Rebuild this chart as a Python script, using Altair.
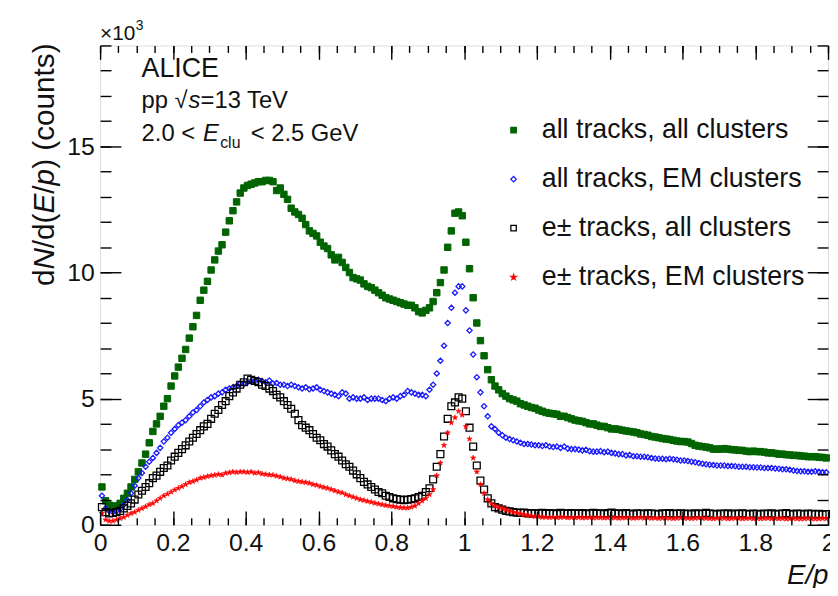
import altair as alt
import numpy as np
import pandas as pd

# ---------------- data (values in units of 10^3 counts) ----------------
bin_centers = np.round(np.arange(200) * 0.01 + 0.005, 3)

all_tracks_all_clusters = [
    1.5, 0.95, 0.78, 0.72, 0.75, 0.85, 1.05, 1.25, 1.5, 1.8,
    2.1, 2.45, 2.8, 3.25, 3.7, 4.0, 4.3, 4.7, 5.0, 5.5,
    5.9, 6.25, 6.6, 6.95, 7.4, 7.85, 8.3, 8.9, 9.3, 9.65,
    10.1, 10.5, 10.85, 11.1, 11.6, 12.05, 12.45, 12.8, 13.15, 13.35,
    13.45, 13.5, 13.55, 13.6, 13.6, 13.65, 13.65, 13.6, 13.25, 13.35,
    13.1, 12.9, 12.55, 12.4, 12.3, 12.15, 11.9, 11.65, 11.55, 11.45,
    11.2, 11.05, 10.95, 10.7, 10.5, 10.6, 10.4, 10.2, 10.0, 9.8,
    9.75, 9.7, 9.55, 9.45, 9.4, 9.3, 9.2, 9.1, 9.0, 8.95,
    8.9, 8.85, 8.8, 8.75, 8.7, 8.7, 8.6, 8.45, 8.4, 8.5,
    8.6, 8.85, 9.2, 9.6, 10.1, 11.0, 11.65, 12.35, 12.4, 12.25,
    11.2, 10.15, 9.0, 8.0, 7.3, 6.7, 6.15, 5.75, 5.5, 5.35,
    5.2, 5.1, 5.0, 4.95, 4.9, 4.8, 4.75, 4.7, 4.65, 4.62,
    4.55, 4.5, 4.45, 4.42, 4.4, 4.38, 4.3, 4.3, 4.25, 4.2,
    4.15, 4.12, 4.1, 4.05, 4.0, 4.0, 3.95, 3.9, 3.9, 3.85,
    3.8, 3.8, 3.78, 3.75, 3.72, 3.7, 3.68, 3.65, 3.6, 3.58,
    3.55, 3.5, 3.48, 3.45, 3.42, 3.4, 3.38, 3.35, 3.32, 3.3,
    3.3, 3.28, 3.22, 3.15, 3.12, 3.1, 3.08, 3.05, 3.0, 3.0,
    3.0, 3.02, 3.0, 2.98, 2.97, 2.95, 2.95, 2.92, 2.9, 2.92,
    2.9, 2.9, 2.88, 2.85, 2.85, 2.83, 2.8, 2.8, 2.78, 2.77,
    2.75, 2.75, 2.73, 2.72, 2.7, 2.7, 2.7, 2.68, 2.67, 2.65,
]

all_tracks_em_clusters = [
    1.15, 0.65, 0.55, 0.5, 0.55, 0.62, 0.8, 0.98, 1.25, 1.55,
    1.85, 2.05, 2.3, 2.5, 2.65, 2.85, 3.05, 3.3, 3.45, 3.65,
    3.8, 3.95, 4.05, 4.15, 4.3, 4.45, 4.55, 4.7, 4.85, 4.95,
    5.05, 5.1, 5.2, 5.25, 5.35, 5.4, 5.45, 5.5, 5.6, 5.6,
    5.65, 5.7, 5.7, 5.75, 5.7, 5.65, 5.72, 5.6, 5.62, 5.55,
    5.55, 5.5, 5.55, 5.5, 5.45, 5.4, 5.45, 5.37, 5.4, 5.45,
    5.35, 5.3, 5.25, 5.2, 5.15, 5.1, 5.25, 5.2, 5.0, 5.05,
    5.0, 5.0, 5.05, 4.95, 5.0, 5.0, 5.0, 4.95, 4.9, 5.0,
    5.05, 5.0, 5.1, 5.15, 5.3, 5.25, 5.2, 5.15, 5.15, 5.1,
    5.35, 5.55, 6.0, 6.5, 7.1, 8.0, 8.6, 9.2, 9.45, 9.45,
    8.5, 7.7, 6.75, 5.85, 5.25, 4.7, 4.3, 3.9, 3.8, 3.65,
    3.55, 3.45, 3.4, 3.35, 3.3, 3.25, 3.2, 3.2, 3.18, 3.15,
    3.15, 3.12, 3.15, 3.1, 3.08, 3.1, 3.05, 3.1, 3.02, 3.0,
    3.0, 2.98, 2.95, 2.97, 2.92, 2.9, 2.9, 2.92, 2.88, 2.9,
    2.85, 2.83, 2.8, 2.8, 2.75, 2.77, 2.72, 2.72, 2.7, 2.7,
    2.68, 2.65, 2.63, 2.62, 2.62, 2.6, 2.62, 2.6, 2.58, 2.55,
    2.55, 2.53, 2.5, 2.48, 2.45, 2.42, 2.4, 2.38, 2.37, 2.35,
    2.35, 2.35, 2.33, 2.33, 2.32, 2.3, 2.3, 2.3, 2.28, 2.28,
    2.27, 2.27, 2.25, 2.25, 2.25, 2.23, 2.22, 2.2, 2.2, 2.18,
    2.15, 2.13, 2.12, 2.12, 2.1, 2.1, 2.12, 2.1, 2.08, 2.08,
]

e_tracks_all_clusters = [
    0.7, 0.5, 0.45, 0.47, 0.5, 0.55, 0.65, 0.75, 0.85, 1.0,
    1.2, 1.35, 1.5, 1.65, 1.85, 1.95, 2.1, 2.25, 2.35, 2.55,
    2.7, 2.85, 3.0, 3.15, 3.3, 3.45, 3.6, 3.75, 3.9, 4.0,
    4.2, 4.4, 4.55, 4.75, 4.9, 5.1, 5.25, 5.4, 5.55, 5.65,
    5.8, 5.75, 5.7, 5.65, 5.55, 5.5, 5.4, 5.3, 5.15, 5.05,
    4.9, 4.75, 4.6, 4.4, 4.15, 3.95, 3.85, 3.75, 3.6, 3.45,
    3.35, 3.2, 3.1, 2.95, 2.8, 2.7, 2.55, 2.4, 2.3, 2.15,
    2.0, 1.85, 1.7, 1.6, 1.5, 1.4, 1.3, 1.25, 1.15, 1.1,
    1.05, 1.02, 1.0, 0.98, 1.0, 1.02, 1.05, 1.1, 1.15, 1.3,
    1.45, 1.8, 2.3, 2.8, 3.5, 4.2, 4.7, 4.85, 5.05, 5.0,
    4.5, 3.85, 3.1, 2.35, 1.75, 1.4, 1.05, 0.85, 0.7, 0.65,
    0.6, 0.55, 0.53, 0.5, 0.48, 0.47, 0.48, 0.45, 0.46, 0.45,
    0.45, 0.47, 0.44, 0.46, 0.45, 0.43, 0.47, 0.45, 0.44, 0.46,
    0.45, 0.44, 0.46, 0.43, 0.45, 0.47, 0.44, 0.45, 0.43, 0.46,
    0.48, 0.44, 0.45, 0.43, 0.46, 0.44, 0.42, 0.45, 0.44, 0.43,
    0.45, 0.44, 0.43, 0.42, 0.45, 0.44, 0.46, 0.43, 0.44, 0.45,
    0.43, 0.44, 0.42, 0.45, 0.43, 0.44, 0.47, 0.44, 0.43, 0.42,
    0.44, 0.43, 0.45, 0.42, 0.44, 0.43, 0.45, 0.43, 0.42, 0.44,
    0.43, 0.42, 0.44, 0.43, 0.45, 0.42, 0.43, 0.44, 0.46, 0.43,
    0.42, 0.44, 0.43, 0.42, 0.44, 0.43, 0.42, 0.43, 0.41, 0.42,
]

e_tracks_em_clusters = [
    0.45, 0.2, 0.15, 0.15, 0.2, 0.25, 0.3, 0.38, 0.45, 0.5,
    0.58, 0.65, 0.72, 0.8, 0.85, 0.95, 1.05, 1.15, 1.22, 1.3,
    1.38, 1.45, 1.52, 1.6, 1.68, 1.72, 1.78, 1.85, 1.88, 1.92,
    1.95, 1.97, 2.0, 1.98, 2.05, 2.07, 2.1, 2.08, 2.1, 2.1,
    2.08, 2.1, 2.05, 2.07, 2.02, 2.0, 1.98, 1.97, 1.93, 1.9,
    1.85, 1.83, 1.8, 1.75, 1.72, 1.7, 1.68, 1.65, 1.6, 1.57,
    1.52, 1.48, 1.45, 1.4, 1.35, 1.3, 1.27, 1.2, 1.15, 1.1,
    1.05, 1.0, 0.97, 0.93, 0.9, 0.86, 0.83, 0.8, 0.77, 0.75,
    0.73, 0.7, 0.68, 0.67, 0.67, 0.7, 0.75, 0.85, 0.95, 1.05,
    1.2, 1.4, 1.95, 2.45, 3.15, 3.65, 4.05, 4.25, 4.5, 4.35,
    3.9, 3.4, 2.65, 2.1, 1.6, 1.25, 1.0, 0.85, 0.75, 0.68,
    0.65, 0.6, 0.55, 0.5, 0.47, 0.43, 0.4, 0.38, 0.35, 0.33,
    0.31, 0.3, 0.3, 0.29, 0.3, 0.28, 0.29, 0.3, 0.28, 0.29,
    0.28, 0.29, 0.27, 0.28, 0.29, 0.27, 0.28, 0.28, 0.27, 0.28,
    0.27, 0.28, 0.26, 0.27, 0.28, 0.27, 0.26, 0.27, 0.28, 0.26,
    0.27, 0.26, 0.27, 0.25, 0.26, 0.27, 0.26, 0.25, 0.26, 0.27,
    0.25, 0.26, 0.25, 0.26, 0.27, 0.25, 0.26, 0.25, 0.24, 0.26,
    0.25, 0.26, 0.24, 0.25, 0.26, 0.25, 0.24, 0.25, 0.26, 0.24,
    0.25, 0.24, 0.25, 0.26, 0.24, 0.25, 0.24, 0.25, 0.23, 0.24,
    0.25, 0.24, 0.23, 0.24, 0.25, 0.24, 0.23, 0.24, 0.25, 0.24,
]

series_names = [
    "all tracks, all clusters",
    "all tracks, EM clusters",
    "e\u00b1 tracks, all clusters",
    "e\u00b1 tracks, EM clusters",
]
series_values = [all_tracks_all_clusters, all_tracks_em_clusters,
                 e_tracks_all_clusters, e_tracks_em_clusters]

x_major = [0, 0.2, 0.4, 0.6, 0.8, 1.0, 1.2, 1.4, 1.6, 1.8, 2.0]
x_minor = [round(0.05 * i, 2) for i in range(41)]
y_major = [0, 5, 10, 15]
y_minor = list(range(20))

# ---------------- styles ----------------
GREEN = "#006400"
BLUE = "#1a1aff"
BLACK = "#000000"
RED = "#ff0000"
STAR = "M0,-1L0.224,-0.309L0.951,-0.309L0.363,0.118L0.588,0.809L0,0.382L-0.588,0.809L-0.363,0.118L-0.951,-0.309L-0.224,-0.309Z"
FONT = "Liberation Sans"

W, H = 735, 484
xs = alt.Scale(domain=[0, 2], nice=False, zero=False)
ys = alt.Scale(domain=[0, 19], nice=False, zero=False)

legend = alt.Legend(orient="none", legendX=404, legendY=72, title=None,
                    labelFontSize=27, labelFont=FONT, labelColor="#111",
                    labelLimit=0, rowPadding=21.5, labelOffset=15, symbolSize=30,
                    symbolStrokeWidth=1.3, padding=0)
fill_enc = alt.Fill("series:N", scale=alt.Scale(domain=series_names,
                    range=[GREEN, "transparent", "transparent", RED]), legend=legend)
stroke_enc = alt.Stroke("series:N", scale=alt.Scale(domain=series_names,
                        range=[GREEN, BLUE, BLACK, RED]), legend=legend)
shape_enc = alt.Shape("series:N", scale=alt.Scale(domain=series_names,
                      range=["square", "diamond", "square", STAR]), legend=legend)

marker_size = [42, 28, 48, 32]
marker_stroke = [1.0, 1.3, 1.3, 0.6]

layers = []
for k, (name, vals) in enumerate(zip(series_names, series_values)):
    df = pd.DataFrame({"x": bin_centers, "y": vals, "series": name})
    if k == 0:
        xax = alt.Axis(orient="bottom", values=x_major, format="~g", ticks=False,
                       tickSize=0, domain=False, grid=False, labelFontSize=25,
                       labelFont=FONT, labelColor="#111", labelPadding=6,
                       labelFlush=False, labelOverlap=False, labelBound=False,
                       title="E/p", titleFontSize=28, titleFont=FONT,
                       titleFontStyle="italic", titleFontWeight="normal",
                       titleAnchor="end", titleAlign="right", titleColor="#111",
                       titlePadding=6)
        yax = alt.Axis(orient="left", values=y_major, ticks=False, tickSize=0,
                       domain=False, grid=False, labelFontSize=25, labelFont=FONT,
                       labelColor="#111", labelPadding=6, labelOverlap=False,
                       labelFlush=False, title=None)
        xenc = alt.X("x:Q", scale=xs, axis=xax)
        yenc = alt.Y("y:Q", scale=ys, axis=yax)
    else:
        xenc = alt.X("x:Q", scale=xs, axis=None)
        yenc = alt.Y("y:Q", scale=ys, axis=None)
    layers.append(
        alt.Chart(df).mark_point(size=marker_size[k], strokeWidth=marker_stroke[k],
                                 opacity=1)
        .encode(x=xenc, y=yenc, fill=fill_enc, stroke=stroke_enc, shape=shape_enc)
    )

# ---------------- inward ticks on all four sides ----------------
frame_df = pd.DataFrame({"x": [0.0, 2.0], "y": [0.0, 19.0]})


def tick_layer(xo, xoff, xv, xsz, yo, yoff, yv, ysz):
    common = dict(labels=False, domain=False, grid=False, tickColor="#000",
                  tickWidth=1.4, zindex=1)
    return alt.Chart(frame_df).mark_point(opacity=0).encode(
        x=alt.X("x:Q", scale=xs, title=None,
                axis=alt.Axis(orient=xo, offset=xoff, values=xv, tickSize=xsz, **common)),
        y=alt.Y("y:Q", scale=ys, title=None,
                axis=alt.Axis(orient=yo, offset=yoff, values=yv, tickSize=ysz, **common)),
    )


layers += [
    tick_layer("top", -H, x_major, 14, "right", -W, y_major, 21),
    tick_layer("top", -H, x_minor, 7, "right", -W, y_minor, 11),
    tick_layer("bottom", -H, x_major, 14, "left", -W, y_major, 21),
    tick_layer("bottom", -H, x_minor, 7, "left", -W, y_minor, 11),
]

# ---------------- text annotations ----------------
one = pd.DataFrame({"k": [0]})


def label(text, xd, yd, size, style="normal", dy=0, angle=0, baseline="alphabetic"):
    return alt.Chart(one).mark_text(text=text, align="left", baseline=baseline,
                                    font=FONT, fontSize=size, fontStyle=style,
                                    color="#111", dy=dy, angle=angle).encode(
        x=alt.XDatum(xd, type="quantitative", scale=xs, axis=None),
        y=alt.YDatum(yd, type="quantitative", scale=ys, axis=None),
    )


YT_X = -0.150  # centre line of the rotated y title (data units)
layers += [
    label("\u00d710", 0.0, 19.0, 21, dy=-6),
    label("3", 0.098, 19.0, 14, dy=-16),
    label("ALICE", 0.114, 17.74, 27),
    label("pp \u221a", 0.114, 16.53, 24),
    label("s", 0.243, 16.53, 24, "italic"),
    label("=13 TeV", 0.276, 16.53, 24),
    label("2.0 < ", 0.114, 15.23, 24),
    label("E", 0.283, 15.23, 24, "italic"),
    label("clu", 0.330, 14.92, 16),
    label("< 2.5 GeV", 0.414, 15.23, 24),
    # y-axis title  dN/d(E/p) (counts), rotated, with italic N, E, p
    label("d", YT_X, 9.461, 30, angle=270, baseline="middle"),
    label("N", YT_X, 10.116, 30, "italic", angle=270, baseline="middle"),
    label("/d(", YT_X, 10.964, 30, angle=270, baseline="middle"),
    label("E", YT_X, 12.338, 30, "italic", angle=270, baseline="middle"),
    label("/", YT_X, 13.123, 30, angle=270, baseline="middle"),
    label("p", YT_X, 13.453, 30, "italic", angle=270, baseline="middle"),
    label(") (counts)", YT_X, 14.109, 30, angle=270, baseline="middle"),
]

chart = (
    alt.layer(*layers)
    .resolve_axis(x="independent", y="independent")
    .properties(width=W, height=H, autosize=alt.AutoSizeParams(type="none"),
                padding={"left": 93, "top": 35, "right": 2, "bottom": 61})
    .configure_view(stroke="#000", strokeWidth=1.6)
    .configure(font=FONT)
)

chart.save("out.html", embed_options={"renderer": "svg", "actions": False})
